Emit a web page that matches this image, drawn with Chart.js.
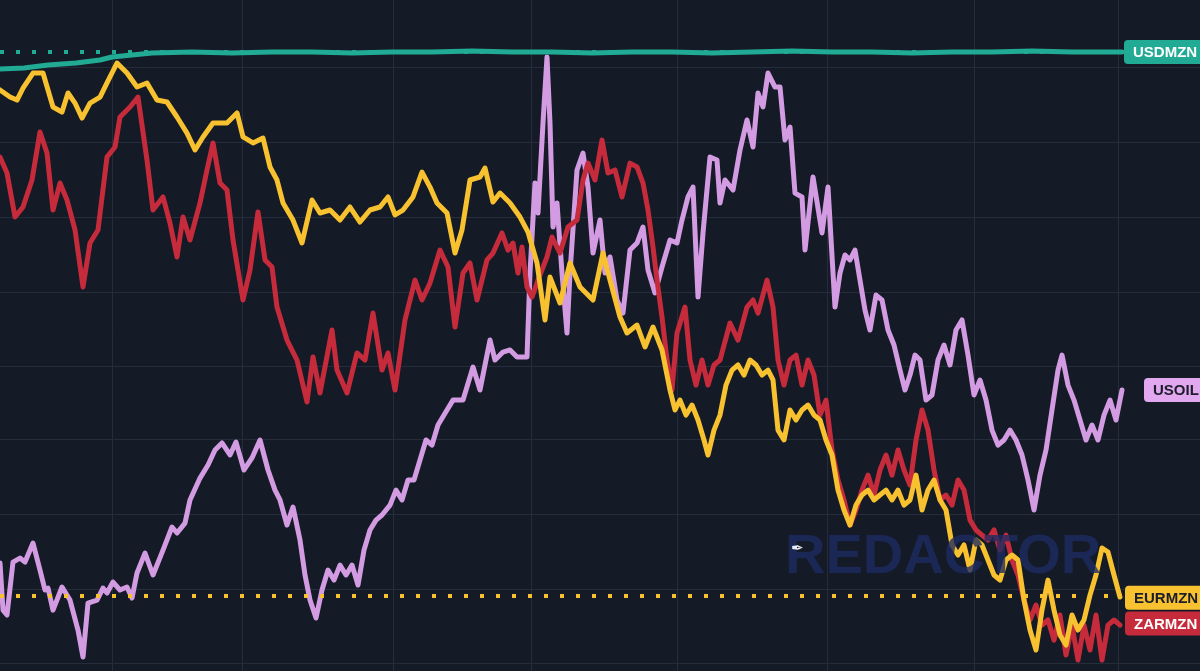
<!DOCTYPE html>
<html>
<head>
<meta charset="utf-8">
<script src="https://cdn.jsdelivr.net/npm/chart.js@4/dist/chart.umd.min.js"></script>
<style>
	html, body { margin: 0; padding: 0; background: #141a26; }
	#wrap { width: 1200px; height: 671px; position: relative; }
</style>
</head>
<body>
<div id="wrap"><canvas id="compareChart"></canvas></div>
<script>
// x = calendar days from the start of the window, y = % change
const monthDays = [28, 60.5, 98.25, 132.75, 169.5, 206.75, 243.5, 279.5];
const gridPct = [19.93, 14.93, 9.93, 4.93, 0, -4.93, -9.93, -14.87, -19.8];

const tealDays = [0, 6, 12, 19, 25, 28, 33, 38, 48, 58, 68, 78, 88, 98, 108, 118, 128, 138, 148, 158, 168, 178, 188, 198, 208, 218, 228, 238, 248, 258, 268, 275, 280.5];
const usdPct = [19.8, 19.87, 20.07, 20.2, 20.4, 20.6, 20.73, 20.87, 20.93, 20.87, 20.93, 20.93, 20.87, 20.93, 20.93, 21.0, 20.93, 20.93, 20.87, 20.93, 20.93, 20.87, 20.93, 21.0, 20.93, 20.93, 20.87, 20.93, 20.93, 21.0, 20.93, 20.93, 20.93];

const eurDays = [0, 2.5, 4.25, 5.75, 8.25, 10.75, 13.25, 15.5, 17, 18.75,
	20.5, 22.5, 25, 26.75, 29.25, 31.75, 34.25, 36.75, 39.25, 41.75,
	44.25, 46.75, 48.75, 50.75, 53.25, 56.75, 59.25, 60.75, 63.25, 65.75,
	67.5, 69.25, 70.75, 73.25, 75.5, 78, 80, 82.5, 85, 87.5,
	90, 92.5, 95, 97, 98.75, 100.75, 103.25, 105.5, 107.5, 109.25,
	111.75, 113.75, 115.5, 117.5, 120, 121.25, 123.25, 125, 127.5, 130,
	132, 134.25, 136.25, 137.5, 140, 142.5, 145, 148.25, 150.75, 152.5,
	155, 156.75, 159.25, 161.25, 163.25, 165.5, 167.5, 168.75, 170, 171.5,
	173, 174.5, 176, 177, 178.5, 180, 181.5, 183, 184.5, 186,
	187.5, 189, 190.5, 192, 193.25, 194.5, 196, 197.5, 199, 200.5,
	202, 203.5, 205, 206.5, 208, 209.5, 211, 212.5, 214, 215.5,
	217, 218.5, 220, 221.5, 223, 224.5, 226, 227.5, 229, 230.5,
	232, 233.5, 235, 236.5, 238, 239.5, 241, 242.5, 244, 245.5,
	247, 248.5, 250, 251.5, 253, 254.5, 256, 257.5, 259, 260.5,
	262, 263.5, 265, 266.5, 268, 269.5, 271, 272.5, 274, 275.5,
	277, 278.5, 280];
const eurPct = [18.4, 17.93, 17.73, 18.53, 19.53, 19.53, 17.27, 16.93, 18.2, 17.53,
	16.53, 17.53, 17.93, 18.87, 20.2, 19.53, 18.6, 18.87, 17.73, 17.6,
	16.6, 15.53, 14.4, 15.27, 16.2, 16.2, 16.87, 15.27, 14.87, 15.2,
	13.27, 12.4, 10.87, 9.73, 8.2, 11.07, 10.2, 10.4, 9.73, 10.6,
	9.6, 10.4, 10.6, 11.27, 10.07, 10.4, 11.27, 12.93, 11.93, 10.87,
	10.2, 7.53, 9.07, 12.4, 12.6, 13.2, 10.93, 11.53, 10.87, 9.93,
	8.93, 6.87, 3.07, 5.93, 4.2, 6.87, 5.27, 4.4, 7.53, 5.73,
	3.27, 2.2, 2.73, 1.27, 2.6, 1.07, -1.6, -2.93, -2.27, -3.27,
	-2.6, -3.6, -4.93, -5.93, -4.27, -3.27, -1.27, -0.27, 0.07, -0.6,
	0.4, 0.07, -0.6, -0.27, -0.93, -4.27, -4.93, -2.93, -3.6, -2.93,
	-2.6, -3.27, -3.6, -4.93, -5.93, -8.27, -9.6, -10.6, -9.27, -8.6,
	-8.27, -8.93, -8.6, -8.27, -8.93, -8.27, -9.27, -8.93, -7.27, -9.6,
	-8.27, -7.6, -8.93, -9.6, -11.93, -12.6, -11.93, -13.6, -11.6, -11.93,
	-12.93, -13.93, -14.27, -12.93, -12.6, -12.93, -15.6, -17.6, -18.93, -16.27,
	-14.27, -16.27, -17.93, -18.6, -16.6, -17.6, -16.93, -15.27, -13.93, -12.13,
	-12.4, -13.93, -15.4];

const zarDays = [0, 1.75, 3.75, 5.75, 8, 10, 11.75, 13.25, 15, 16.75,
	18.75, 20.75, 22.5, 24.5, 26.75, 28.75, 30, 32.5, 34.5, 36.75,
	38.25, 40.75, 42.5, 44.25, 45.75, 47.5, 50, 51.75, 53.25, 55,
	56.75, 58.25, 60.75, 62.5, 64.5, 66.25, 68, 69.25, 71.75, 74.25,
	76.75, 78.25, 80, 83, 84.25, 86.75, 89.25, 91.25, 93.25, 95.5,
	97, 98.75, 101.25, 103.75, 105.5, 107.5, 110, 112, 113.75, 115.75,
	117.5, 119.25, 121.75, 123.25, 125.5, 127, 128.25, 129.5, 130.5, 131.75,
	133, 134.5, 136.75, 138, 140, 142, 144.25, 145.75, 147, 148.75,
	150.5, 152, 153.75, 155.5, 157.5, 159.25, 160.75, 162, 163.25, 164.25,
	165.5, 166.75, 168, 169.25, 171.25, 172.5, 174, 175.5, 177, 178.5,
	180, 182.5, 184.5, 186.75, 188.25, 189.5, 191.75, 193.25, 194.5, 196,
	197.5, 199, 200.5, 202, 203.5, 205, 206.5, 208, 209.5, 211,
	212.5, 214, 215.5, 217, 218.5, 220, 221.5, 223, 224.5, 226,
	227.5, 229, 230.5, 232, 233.5, 235, 236.5, 238, 239.5, 241,
	242.5, 244, 245.5, 247, 248.5, 250, 251.5, 253, 254.5, 256,
	257.5, 259, 260.5, 262, 263.5, 265, 266.5, 268, 269.5, 271,
	272.5, 274, 275.5, 277, 278.5, 280];
const zarPct = [13.93, 12.87, 9.93, 10.6, 12.4, 15.6, 14.2, 10.4, 12.2, 11.07,
	9.07, 5.27, 8.2, 9.07, 13.93, 14.6, 16.6, 17.27, 17.93, 13.73,
	10.4, 11.27, 9.53, 7.27, 9.93, 8.4, 10.87, 13.07, 14.87, 12.2,
	11.73, 8.4, 4.4, 6.4, 10.27, 7.07, 6.6, 3.93, 1.73, 0.4,
	-2.4, 0.6, -1.8, 2.4, -0.27, -1.8, 0.87, 0.4, 3.53, -0.27,
	0.87, -1.6, 3.07, 5.73, 4.4, 5.53, 7.73, 6.6, 2.6, 6.2,
	6.87, 4.4, 7.07, 7.53, 8.87, 7.73, 8.2, 6.2, 7.93, 5.27,
	4.6, 5.73, 7.27, 8.6, 7.53, 9.27, 9.73, 12.4, 13.53, 12.4,
	15.07, 12.87, 13.07, 11.27, 13.53, 13.27, 12.2, 10.4, 7.93, 5.73,
	3.27, 0.4, -1.6, 2.2, 3.93, 0.4, -1.27, 0.4, -1.27, 0.07,
	0.4, 2.87, 1.73, 3.93, 4.4, 3.53, 5.73, 3.93, 0.4, -1.27,
	0.4, 0.73, -1.27, 0.4, -0.6, -3.27, -2.27, -5.6, -7.6, -8.93,
	-10.6, -9.6, -8.27, -7.27, -8.6, -6.93, -5.93, -7.27, -5.6, -6.93,
	-7.93, -4.93, -2.93, -4.27, -6.93, -8.93, -8.6, -9.27, -7.6, -8.27,
	-10.27, -10.93, -11.27, -11.6, -10.93, -12.27, -11.27, -12.93, -13.93, -15.6,
	-16.93, -15.93, -17.27, -16.93, -18.27, -16.6, -19.27, -17.27, -19.6, -17.27,
	-18.93, -16.6, -19.6, -17.27, -16.93, -17.27];

const oilDays = [0, 0.75, 1.75, 3.25, 5, 6.25, 8.25, 10, 11.25, 12,
	13.25, 15.5, 17.5, 19.5, 20.75, 22, 24.25, 25.75, 26.75, 28.25,
	30, 31.75, 33, 34.25, 36.25, 38.25, 40.75, 43, 44.25, 46.25,
	47.5, 50, 52, 53.75, 55.5, 57.5, 59, 61, 63, 65,
	67, 68.75, 70, 71.75, 73.25, 75, 76.25, 77.5, 79, 80.5,
	82, 83.5, 85, 86.5, 88, 89.5, 91, 92.5, 94, 95.5,
	97.5, 99, 100.5, 102, 103.5, 105, 106.5, 108, 109.5, 111.75,
	113.25, 115.75, 118.25, 120, 121.5, 122.5, 123.75, 125.75, 127.5, 129.25,
	131.75, 132.5, 133.75, 134.5, 135.75, 136.75, 137.5, 138.25, 139.25, 140.5,
	141.75, 142.5, 144.25, 145.75, 147, 148.25, 150, 151.25, 152.5, 154.25,
	155.75, 157.5, 159.25, 160.75, 162, 163.75, 165.5, 167.5, 169.25, 170.5,
	172, 173.25, 174.5, 175.75, 177.5, 179.25, 180, 181.25, 183.25, 185,
	186.75, 188.25, 189.5, 190.75, 192, 193.75, 195, 196.25, 197.5, 198.75,
	200.5, 201.25, 203.25, 205.5, 207, 208.75, 210, 211.25, 212.5, 213.75,
	215, 216.25, 217.5, 219, 220.5, 222, 223.5, 225, 226.25, 227.5,
	228.75, 230, 231.5, 233, 234.5, 236, 237.5, 239, 240.5, 242,
	243.5, 245, 246.5, 248, 249.5, 251, 252.5, 254, 255.5, 257,
	258.5, 260, 261.5, 263, 264.5, 265.5, 267, 268.5, 270, 271.5,
	273, 274.5, 276, 277.5, 279, 280.5];
const oilPct = [-13.13, -16.27, -16.6, -13.07, -12.8, -13.07, -11.8, -13.6, -14.93, -14.8,
	-16.27, -14.73, -15.6, -17.6, -19.4, -15.8, -15.6, -14.8, -15.13, -14.4,
	-14.93, -14.73, -15.47, -13.8, -12.47, -13.93, -12.27, -10.73, -11.13, -10.47,
	-8.93, -7.47, -6.6, -5.6, -5.13, -5.93, -5.07, -6.93, -6.13, -4.93,
	-6.93, -8.27, -8.93, -10.6, -9.4, -11.6, -13.93, -15.6, -16.8, -14.93,
	-13.6, -14.27, -13.27, -13.93, -13.27, -14.6, -12.27, -10.93, -10.27, -9.93,
	-9.27, -8.27, -8.93, -7.6, -7.6, -6.27, -4.93, -5.27, -3.93, -2.93,
	-2.27, -2.27, -0.07, -1.6, 0.4, 1.73, 0.4, 0.93, 1.07, 0.6,
	0.6, 6.2, 12.2, 10.2, 16.2, 20.6, 16.2, 9.27, 10.87, 6.2,
	2.2, 6.2, 13.07, 14.2, 11.93, 7.53, 9.73, 6.2, 7.27, 4.4,
	3.53, 7.73, 8.2, 9.27, 6.4, 4.87, 6.6, 8.4, 8.2, 9.73,
	11.27, 11.93, 4.6, 8.87, 13.93, 13.73, 10.87, 12.4, 11.73, 14.4,
	16.4, 14.6, 18.2, 17.27, 19.53, 18.6, 18.6, 15.07, 15.93, 11.53,
	11.27, 7.73, 12.6, 8.87, 11.93, 3.93, 6.2, 7.4, 7.07, 7.73,
	5.73, 3.73, 2.4, 4.73, 4.4, 2.4, 1.4, -0.27, -1.6, -0.6,
	0.73, 0.4, -2.27, -1.93, 0.4, 1.4, 0.07, 2.4, 3.07, 0.73,
	-1.93, -0.93, -2.27, -4.27, -5.27, -4.93, -4.27, -4.93, -5.93, -7.6,
	-9.6, -7.27, -5.6, -2.93, -0.27, 0.73, -1.27, -2.27, -3.6, -4.93,
	-3.93, -4.93, -3.27, -2.27, -3.6, -1.6];

// previous-close reference levels (dotted)
const usdPrevClose = 20.93;
const eurPrevClose = -15.33;

const seriesNames = ['USDMZN', 'EURMZN', 'ZARMZN', 'USOIL'];

const colors = {
	usd: '#22ab94',
	eur: '#f7c12f',
	zar: '#c62b3c',
	oil: '#d39be2',
	oilTag: '#e2a8ef',
	grid: '#252c3b',
	bg: '#141a26'
};

function points(days, values) {
	return days.map((d, i) => ({x: d, y: values[i]}));
}

const lastDay = tealDays[tealDays.length - 1];

const bgPlugin = {
	id: 'bg',
	beforeDraw(chart) {
		const ctx = chart.ctx;
		ctx.save();
		ctx.fillStyle = colors.bg;
		ctx.fillRect(0, 0, chart.width, chart.height);
		ctx.restore();
	}
};

// watermark + right edge series tags
const overlayPlugin = {
	id: 'overlay',
	afterDatasetsDraw(chart) {
		const ctx = chart.ctx;
		const xs = chart.scales.x;
		const ys = chart.scales.y;

		ctx.save();
		ctx.globalAlpha = 0.78;
		ctx.fillStyle = '#1e2c62';
		ctx.font = 'bold 56px "Liberation Sans", Arial, sans-serif';
		ctx.textBaseline = 'alphabetic';
		ctx.fillText('REDACTOR', 785, 573);
		ctx.globalAlpha = 1;
		ctx.fillStyle = '#e9ecf5';
		ctx.font = '15px "DejaVu Sans"';
		ctx.fillText('\u2712', 791, 553);
		ctx.restore();

		const tags = [
			{name: seriesNames[0], value: usdPct[usdPct.length - 1], bg: colors.usd, fg: '#ffffff', dx: 2},
			{name: seriesNames[3], value: oilPct[oilPct.length - 1], bg: colors.oilTag, fg: '#1b1d2b', dx: 22},
			{name: seriesNames[1], value: eurPct[eurPct.length - 1] - 0.05, bg: colors.eur, fg: '#1b1d2b', dx: 3},
			{name: seriesNames[2], value: zarPct[zarPct.length - 1] + 0.1, bg: colors.zar, fg: '#ffffff', dx: 3}
		];
		ctx.save();
		ctx.font = 'bold 15px "Liberation Sans", Arial, sans-serif';
		ctx.textBaseline = 'middle';
		tags.forEach(t => {
			const x = xs.getPixelForValue(lastDay) + t.dx;
			const y = ys.getPixelForValue(t.value);
			const h = 24;
			ctx.fillStyle = t.bg;
			ctx.beginPath();
			ctx.roundRect(x, y - h / 2, 120, h, 4);
			ctx.fill();
			ctx.fillStyle = t.fg;
			ctx.fillText(t.name, x + 9, y + 1);
		});
		ctx.restore();
	}
};

const lineStyle = {
	borderWidth: 5,
	pointRadius: 0,
	pointHoverRadius: 0,
	tension: 0,
	borderJoinStyle: 'round',
	borderCapStyle: 'round',
	fill: false
};

new Chart(document.getElementById('compareChart'), {
	type: 'line',
	data: {
		datasets: [
			{
				label: 'EURMZN prev close',
				data: points([0, lastDay], [eurPrevClose, eurPrevClose]),
				borderColor: colors.eur,
				borderWidth: 4,
				borderDash: [4, 12],
				pointRadius: 0,
				order: 0
			},
			{
				label: 'USDMZN prev close',
				data: points([0, lastDay], [usdPrevClose, usdPrevClose]),
				borderColor: colors.usd,
				borderWidth: 4,
				borderDash: [4, 12],
				pointRadius: 0,
				order: 1
			},
			{label: seriesNames[0], data: points(tealDays, usdPct), borderColor: colors.usd, ...lineStyle, order: 2},
			{label: seriesNames[1], data: points(eurDays, eurPct), borderColor: colors.eur, ...lineStyle, order: 3},
			{label: seriesNames[2], data: points(zarDays, zarPct), borderColor: colors.zar, ...lineStyle, order: 4},
			{label: seriesNames[3], data: points(oilDays, oilPct), borderColor: colors.oil, ...lineStyle, order: 5}
		]
	},
	options: {
		responsive: true,
		maintainAspectRatio: false,
		animation: false,
		devicePixelRatio: 1,
		layout: {padding: 0},
		plugins: {
			legend: {display: false},
			tooltip: {enabled: false}
		},
		scales: {
			x: {
				type: 'linear',
				min: 0,
				max: 300,
				afterBuildTicks: scale => { scale.ticks = monthDays.map(v => ({value: v})); },
				ticks: {display: false},
				grid: {color: colors.grid, lineWidth: 1, drawTicks: false},
				border: {display: false}
			},
			y: {
				type: 'linear',
				min: -20.33,
				max: 24.4,
				afterBuildTicks: scale => { scale.ticks = gridPct.map(v => ({value: v})); },
				ticks: {display: false},
				grid: {color: colors.grid, lineWidth: 1, drawTicks: false},
				border: {display: false}
			}
		}
	},
	plugins: [bgPlugin, overlayPlugin]
});
</script>
</body>
</html>
